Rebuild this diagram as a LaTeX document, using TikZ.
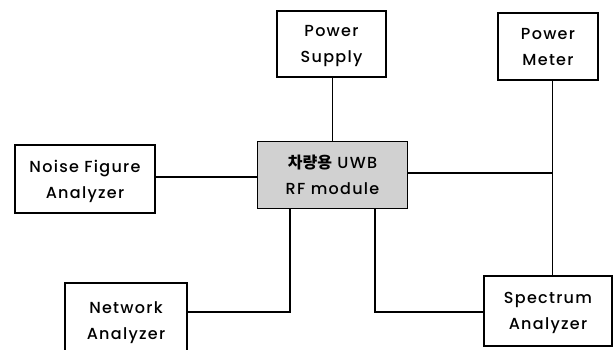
\documentclass[tikz,border=0pt]{standalone}
\usepackage{fontspec}
\setmainfont{Poppins Medium}[LetterSpace=8]
\newfontfamily\krfont{Noto Sans CJK KR}
\begin{document}
\begin{tikzpicture}[x=1pt,y=-1pt,
  box/.style={draw=black, line width=1.3pt, fill=white, align=center, inner sep=0pt,
    text depth=0pt, font=\fontsize{16}{26}\selectfont},
  link/.style={draw=black, line width=1.3pt}]
\useasboundingbox (0,0) rectangle (613,349);
\clip (0,0) rectangle (613,349);
\node[box, minimum width=109, minimum height=66] (ps) at (331.5,44) {Power\\Supply};
\node[box, minimum width=100, minimum height=67] (pm) at (548,46.5) {Power\\Meter};
\node[box, fill=black!18, minimum width=150, minimum height=67] (rf) at (332.5,175) {{\krfont\bfseries 차량용} UWB\\RF module};
\node[box, minimum width=140, minimum height=68] (nf) at (85,179) {Noise Figure\\Analyzer};
\node[box, minimum width=122, minimum height=76] (na) at (126,321) {Network\\Analyzer};
\node[box, minimum width=128, minimum height=70] (sa) at (548,311) {Spectrum\\Analyzer};
\coordinate (j) at (552.5,173);
\coordinate (a1) at (290,312);
\coordinate (a2) at (375,312);
\draw[link] (rf.north) -- (rf.north |- ps.south);
\draw[link] ([yshift=2pt]nf.east) -- ([yshift=2pt]nf.east -| rf.west);
\draw[link] (rf.east |- j) -- (j);
\draw[link, line width=1pt] (j |- pm.south) -- (j |- sa.north);
\draw[link] (a1 |- rf.south) -- (a1) -- (a1 -| na.east);
\draw[link] (a2 |- rf.south) -- (a2) -- (a2 -| sa.west);
\end{tikzpicture}
\end{document}
